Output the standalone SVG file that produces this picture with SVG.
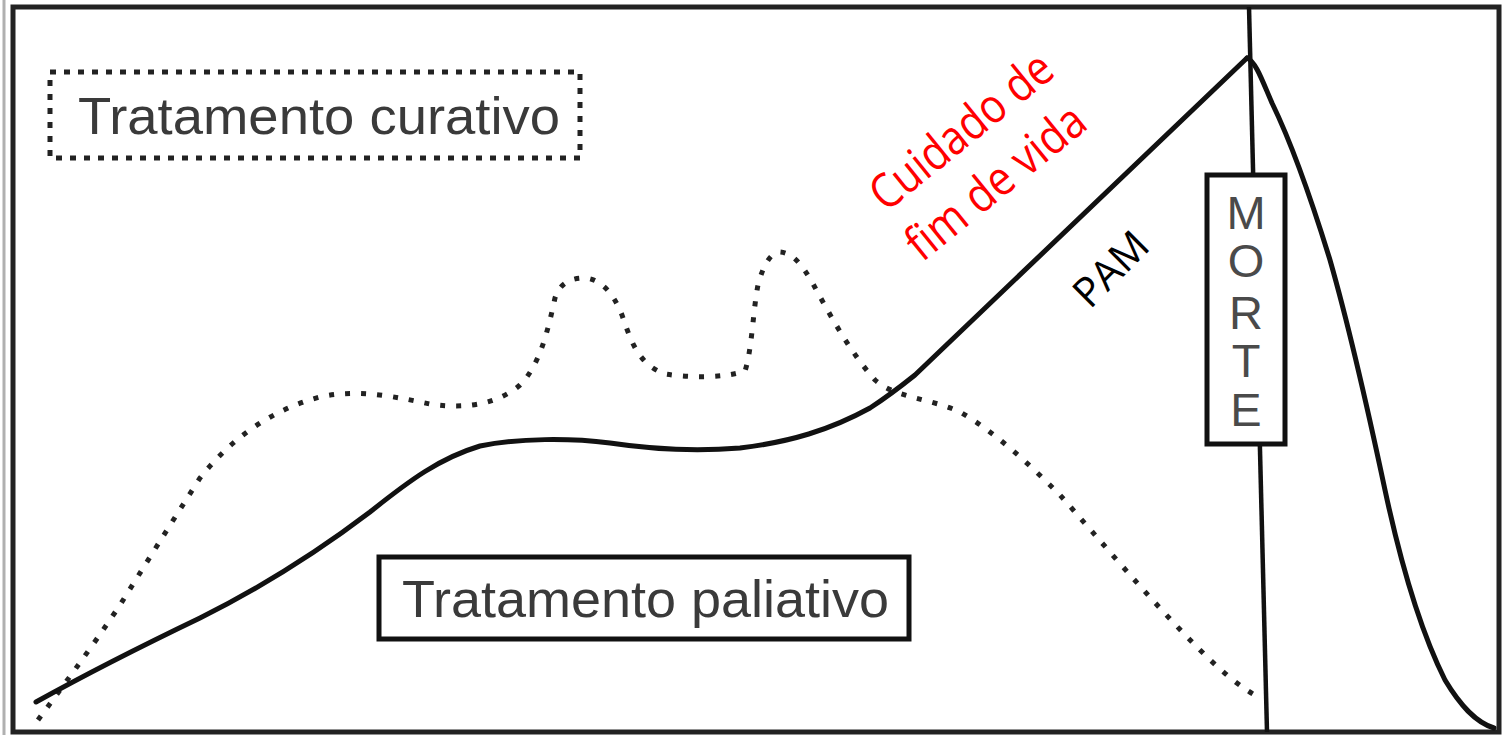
<svg xmlns="http://www.w3.org/2000/svg" width="1508" height="735" viewBox="0 0 1508 735">
<defs>
<style>
.frame{fill:none;stroke:#222;stroke-width:5}
.solid{fill:none;stroke:#111;stroke-width:5;stroke-linejoin:round;stroke-linecap:round}
.dotted{fill:none;stroke:#222;stroke-width:5;stroke-dasharray:5 11}
.lbl{font-family:"Liberation Sans",Arial,sans-serif;fill:#3a3a3a}
.red{font-family:"Open Sans","Noto Sans",sans-serif;fill:#ff0000;font-size:48px}
.pam{font-family:"Open Sans","Noto Sans",sans-serif;fill:#000;font-size:41px}
.morte{font-family:"Liberation Sans",Arial,sans-serif;fill:#4a4a4a;font-size:47px;text-anchor:middle}
</style>
</defs>
<rect width="1508" height="735" fill="#fff"/>
<g id="frame">
<line x1="4" y1="0" x2="4" y2="735" stroke="#b0b0b0" stroke-width="3"/>
<rect class="frame" x="13" y="7" width="1486" height="725"/>
</g>
<g id="connectors">
<path id="curativo-curve" class="dotted" d="M38,720 C60,690 90,650 120,605 C145,565 170,525 200,478 C230,440 270,410 320,397 C360,388 400,398 430,404 C470,410 500,402 520,385 C540,365 548,330 555,298 C560,282 572,278 585,278 C600,279 613,292 622,315 C632,345 640,365 665,374 C690,378 725,378 745,371 C752,350 753,310 758,285 C764,262 772,252 780,252 C793,253 802,265 812,282 C830,315 850,352 875,380 C895,398 930,398 960,412 C995,432 1030,465 1060,495 C1100,540 1150,600 1200,650 C1225,675 1242,688 1258,697"/>
<path id="paliativo-curve" class="solid" d="M36,702 C90,672 150,642 200,618 C260,588 320,550 370,512 C410,480 440,458 480,446 C520,438 570,438 610,443 C650,449 690,452 740,448 C790,442 830,430 870,408 C890,395 905,383 915,375 L1247,58"/>
<path id="pos-morte-curve" class="solid" d="M1247,58 C1256,62 1262,80 1272,103 C1290,140 1310,195 1330,260 C1350,330 1368,410 1385,490 C1400,560 1420,630 1445,680 C1460,705 1475,722 1494,728"/>
<line id="morte-line" x1="1249" y1="7" x2="1267" y2="732" stroke="#111" stroke-width="4.5"/>
</g>
<g id="node-curativo">
<rect x="50" y="72" width="530" height="86" fill="#fff" stroke="#222" stroke-width="5" stroke-dasharray="6 8"/>
<text class="lbl" x="78" y="134" font-size="52" textLength="482" lengthAdjust="spacingAndGlyphs">Tratamento curativo</text>
</g>
<g id="node-paliativo">
<rect x="379" y="557" width="530" height="82" fill="#fff" stroke="#111" stroke-width="5"/>
<text class="lbl" x="402" y="617" font-size="52" textLength="487" lengthAdjust="spacingAndGlyphs">Tratamento paliativo</text>
</g>
<g id="node-morte">
<rect x="1207" y="175" width="78" height="269" fill="#fff" stroke="#111" stroke-width="5"/>
<text class="morte" x="1246" y="229">M</text>
<text class="morte" x="1246" y="277">O</text>
<text class="morte" x="1246" y="329">R</text>
<text class="morte" x="1246" y="377">T</text>
<text class="morte" x="1246" y="426">E</text>
</g>
<g id="label-fim-de-vida">
<text class="red" transform="translate(886,213) rotate(-39)" textLength="220" lengthAdjust="spacingAndGlyphs">Cuidado de</text>
<text class="red" transform="translate(922,263) rotate(-39)" textLength="216" lengthAdjust="spacingAndGlyphs">fim de vida</text>
</g>
<g id="label-pam">
<text class="pam" transform="translate(1090,310) rotate(-45)">PAM</text>
</g>
</svg>
